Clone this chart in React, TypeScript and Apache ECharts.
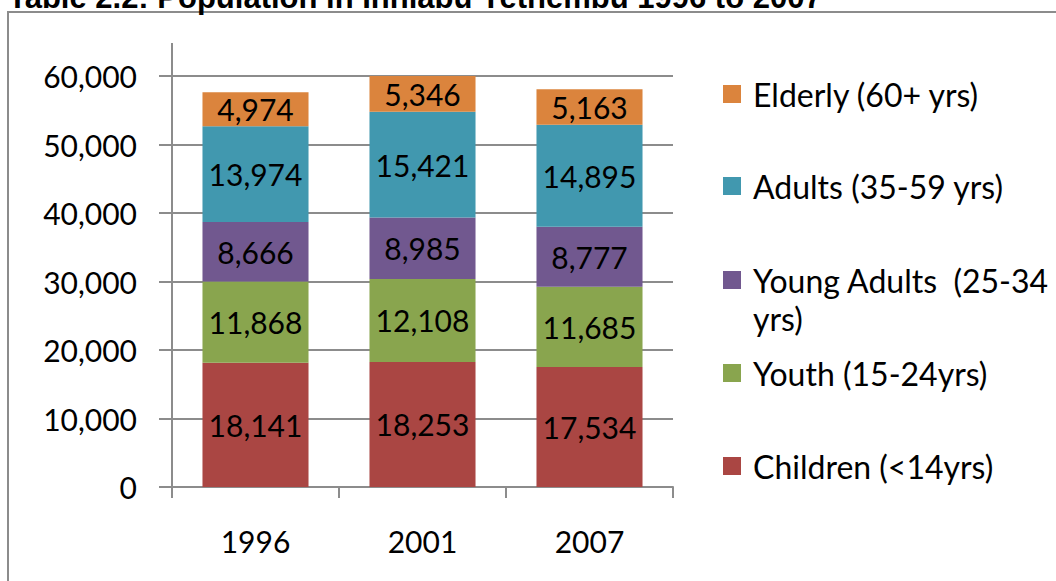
import React, { useEffect, useRef } from "react";
import * as echarts from "echarts";

const years = ["1996", "2001", "2007"];
const children = [18141, 18253, 17534];
const youth = [11868, 12108, 11685];
const youngAdults = [8666, 8985, 8777];
const adults = [13974, 15421, 14895];
const elderly = [4974, 5346, 5163];
const yTicks = [0, 10000, 20000, 30000, 40000, 50000, 60000];
const titleText = "Table 2.2: Population in Inhlabu Yethembu 1996 to 2007";

const FONT = "Lato, 'Open Sans', sans-serif";
const FS = 30;
const LFS = 32;
const GRAY = "#8c8c8c";

const fmt = (v: number) => v.toLocaleString("en-US");

export default function App() {
  const ref = useRef<HTMLDivElement>(null);
  useEffect(() => {
    if (!ref.current) return;
    const chart = echarts.init(ref.current, undefined, { renderer: "svg" });
    const seriesDefs = [
      { name: "Children (<14yrs)", data: children, color: "#AA4643", top: 455 },
      { name: "Youth (15-24yrs)", data: youth, color: "#89A54E", top: 362 },
      { name: "Young Adults  (25-34 yrs)", data: youngAdults, color: "#71588F", top: 269 },
      { name: "Adults (35-59 yrs)", data: adults, color: "#4198AF", top: 175 },
      { name: "Elderly (60+ yrs)", data: elderly, color: "#DB843D", top: 83 },
    ];
    const legends = seriesDefs.map((s) => ({
      data: [s.name],
      left: 723,
      top: s.top - 5,
      padding: 0,
      orient: "vertical",
      itemWidth: 18,
      itemHeight: 18,
      icon: "rect",
      formatter: (n: string) => (n.startsWith("Young") ? "Young Adults  (25-34" : n),
      textStyle: {
        fontFamily: FONT,
        fontSize: LFS,
        color: "#000",
        lineHeight: 18,
        padding: [0, 0, 0, 7],
      },
      selectedMode: false,
    }));
    chart.setOption({
      animation: false,
      backgroundColor: "#fff",
      textStyle: { fontFamily: FONT },
      grid: { left: 172, right: 383, top: 76, bottom: 94 },
      legend: legends,
      xAxis: {
        type: "category",
        data: years,
        axisLine: { lineStyle: { color: GRAY, width: 2 } },
        axisTick: { show: true, length: 11, lineStyle: { color: GRAY, width: 2 } },
        axisLabel: { fontFamily: FONT, fontSize: FS, color: "#000", margin: 39 },
      },
      yAxis: {
        type: "value",
        min: 0,
        max: 60000,
        interval: 10000,
        axisLine: { show: true, lineStyle: { color: GRAY, width: 2 } },
        axisTick: { show: true, length: 13, lineStyle: { color: GRAY, width: 2 } },
        splitLine: { show: true, lineStyle: { color: GRAY, width: 2 } },
        axisLabel: {
          fontFamily: FONT,
          fontSize: FS,
          color: "#000",
          margin: 35,
          formatter: (v: number) => (yTicks.includes(v) ? fmt(v) : ""),
        },
      },
      series: seriesDefs.map((s) => ({
        name: s.name,
        type: "bar",
        stack: "total",
        data: s.data,
        barCategoryGap: "36.5%",
        itemStyle: { color: s.color },
        label: {
          show: true,
          position: "inside",
          fontFamily: FONT,
          fontSize: FS,
          color: "#000",
          formatter: (p: any) => fmt(p.value),
        },
      })),
      graphic: [
        {
          type: "rect",
          shape: { x: 8, y: 12, width: 1200, height: 800 },
          style: { fill: "none", stroke: GRAY, lineWidth: 2 },
          silent: true,
        },
        {
          type: "text",
          x: 8,
          y: -18,
          style: {
            text: titleText,
            font: "bold 31px 'Liberation Sans', Arial, sans-serif",
            fill: "#000",
          },
        },
        {
          type: "line",
          shape: { x1: 172, y1: 43, x2: 172, y2: 77 },
          style: { stroke: GRAY, lineWidth: 2 },
        },
        {
          type: "text",
          x: 753,
          y: 318,
          style: {
            text: "yrs)",
            fontFamily: FONT,
            fontSize: LFS,
            fill: "#000",
            verticalAlign: "middle",
          },
        },
      ],
    });
    return () => chart.dispose();
  }, []);
  return (
    <div
      ref={ref}
      style={{ position: "absolute", left: 0, top: 0, width: 1056, height: 581 }}
    />
  );
}
